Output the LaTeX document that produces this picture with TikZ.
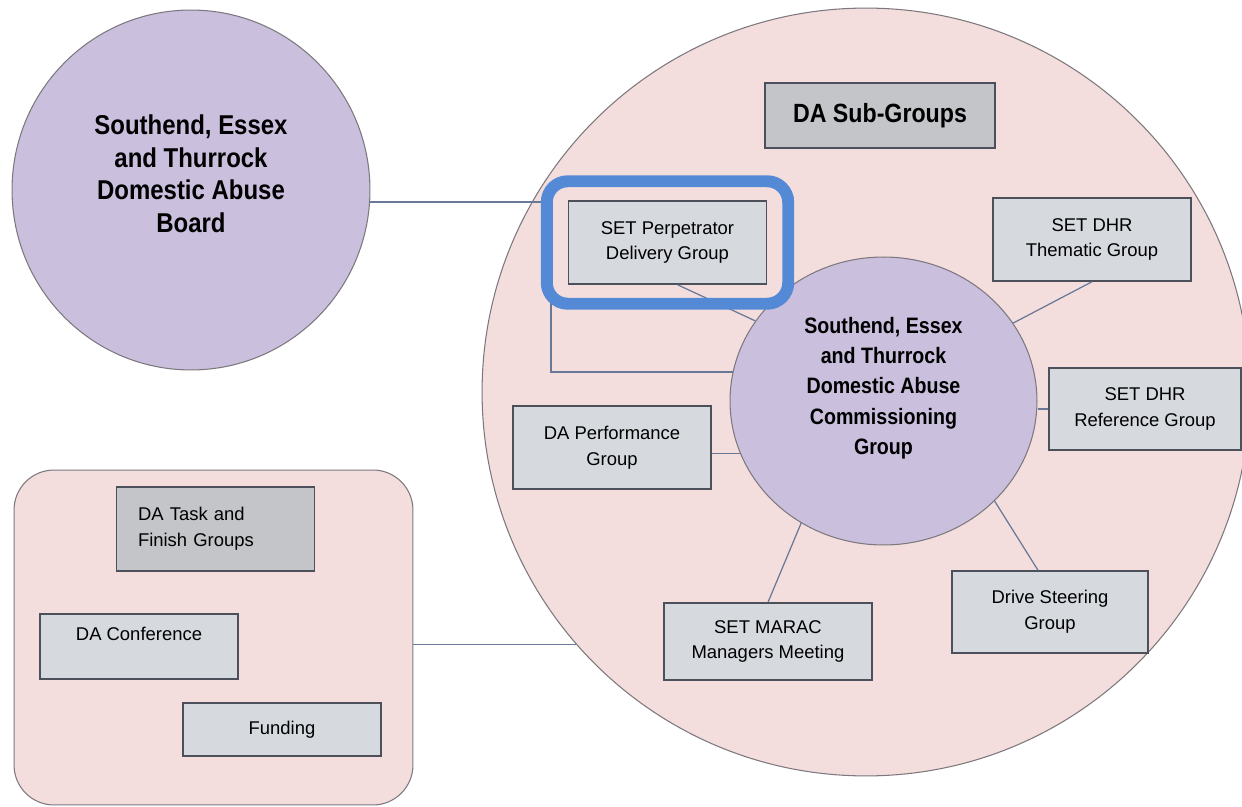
\documentclass[tikz,border=0pt]{standalone}
\usepackage{fontspec}
\setmainfont{Liberation Sans}
\newfontfamily\headfont[FakeStretch=0.88]{Liberation Sans}
\usetikzlibrary{shapes.geometric,fit}

\definecolor{boardfill}{RGB}{202,192,222}
\definecolor{ringfill}{RGB}{243,222,221}
\definecolor{boxfill}{RGB}{214,218,223}
\definecolor{darkbox}{RGB}{196,197,200}
\definecolor{boxline}{RGB}{75,80,90}
\definecolor{rimline}{RGB}{125,120,125}
\definecolor{linkline}{RGB}{105,120,150}
\definecolor{markblue}{RGB}{84,137,214}

\begin{document}
\begin{tikzpicture}[x=0.02cm, y=-0.02cm,
    ring/.style={circle, draw=rimline, fill=ringfill, line width=0.6pt},
    blob/.style={ellipse, draw=rimline, fill=boardfill, line width=0.6pt, align=center, inner sep=0pt,
        font={\headfont\bfseries\fontsize{15.5}{18.7}\selectfont}},
    group/.style={rectangle, draw=boxline, fill=boxfill, line width=0.85pt, align=center, inner sep=0pt,
        minimum width=3.96cm, minimum height=1.66cm, font={\fontsize{10.5}{14.7}\selectfont}},
    link/.style={draw=linkline, line width=0.7pt},
    highlight/.style={draw=markblue, line width=6.8pt, rounded corners=0.42cm}]

    \useasboundingbox (0,0) rectangle (1242,807);
    \fill[white] (0,0) rectangle (1242,807);

    % outer shapes
    \node[ring, minimum size=15.36cm] (bigc) at (866,392) {};
    \node[draw=rimline, fill=ringfill, rounded corners=0.8cm, line width=0.6pt,
        minimum width=7.98cm, minimum height=6.7cm] (extra) at (213.5,637.5) {};

    \node[blob, minimum width=7.16cm, minimum height=7.2cm] (board) at (191,190)
        {Southend, Essex\\and Thurrock\\Domestic Abuse\\Board\\\mbox{}};

    % sub-groups
    \node[group, fill=darkbox, minimum width=4.6cm, minimum height=1.3cm,
        font={\headfont\bfseries\fontsize{15}{18}\selectfont}] (subs) at (880,115.5) {DA Sub-Groups};
    \node[group] (perp) at (667.5,242.5) {SET Perpetrator\\Delivery Group};
    \node[group] (thematic) at (1092,239.5) {SET DHR\\Thematic Group};
    \node[group, minimum width=3.84cm, minimum height=1.64cm] (refgrp) at (1145,409) {SET DHR\\Reference Group};
    \node[group] (perf) at (612,447.5) {DA Performance\\Group};
    \node[group, minimum width=3.92cm, minimum height=1.64cm] (drive) at (1050,612) {Drive Steering\\Group};
    \node[group, minimum width=4.16cm, minimum height=1.54cm] (marac) at (768,641.5) {SET MARAC\\Managers Meeting};

    \node[blob, minimum width=6.14cm, minimum height=5.76cm,
        font={\headfont\bfseries\fontsize{12.7}{17.3}\selectfont}] (comm) at (883.5,401)
        {Southend, Essex\\and Thurrock\\Domestic Abuse\\Commissioning\\Group\\\mbox{}};

    % task and finish box
    \node[group, fill=darkbox, minimum height=1.68cm, text width=3.1cm, align=left] (task) at (215.5,529)
        {DA Task and\\Finish Groups};
    \node[group, minimum height=1.3cm] (conf) at (139,646.5) {DA Conference\\\mbox{}};
    \node[group, minimum height=1.06cm] (fund) at (282,729.5) {Funding};

    % links
    \coordinate (elbowtop) at (551,202);
    \coordinate (elbowbot) at (551,372);
    \draw[link] (board.east |- elbowtop) -- (elbowtop) -- (elbowbot) -- (elbowbot -| comm.169);
    \draw[link] ([xshift=0.2cm]perp.south) -- (comm.148);
    \draw[link] (thematic.south) -- (comm.31);
    \draw[link] (refgrp.west) -- (refgrp.west -| comm.east);
    \draw[link] (comm.200) -- (comm.200 -| perf.east);
    \draw[link] (marac.north) -- (comm.236);
    \draw[link] ([xshift=-0.24cm]drive.north) -- (comm.318);
    \draw[link] (bigc.221) -- (bigc.221 -| extra.east);

    \node[highlight, fit=(perp), inner xsep=0.42cm, inner ysep=0.38cm] (mark) {};

\end{tikzpicture}
\end{document}
